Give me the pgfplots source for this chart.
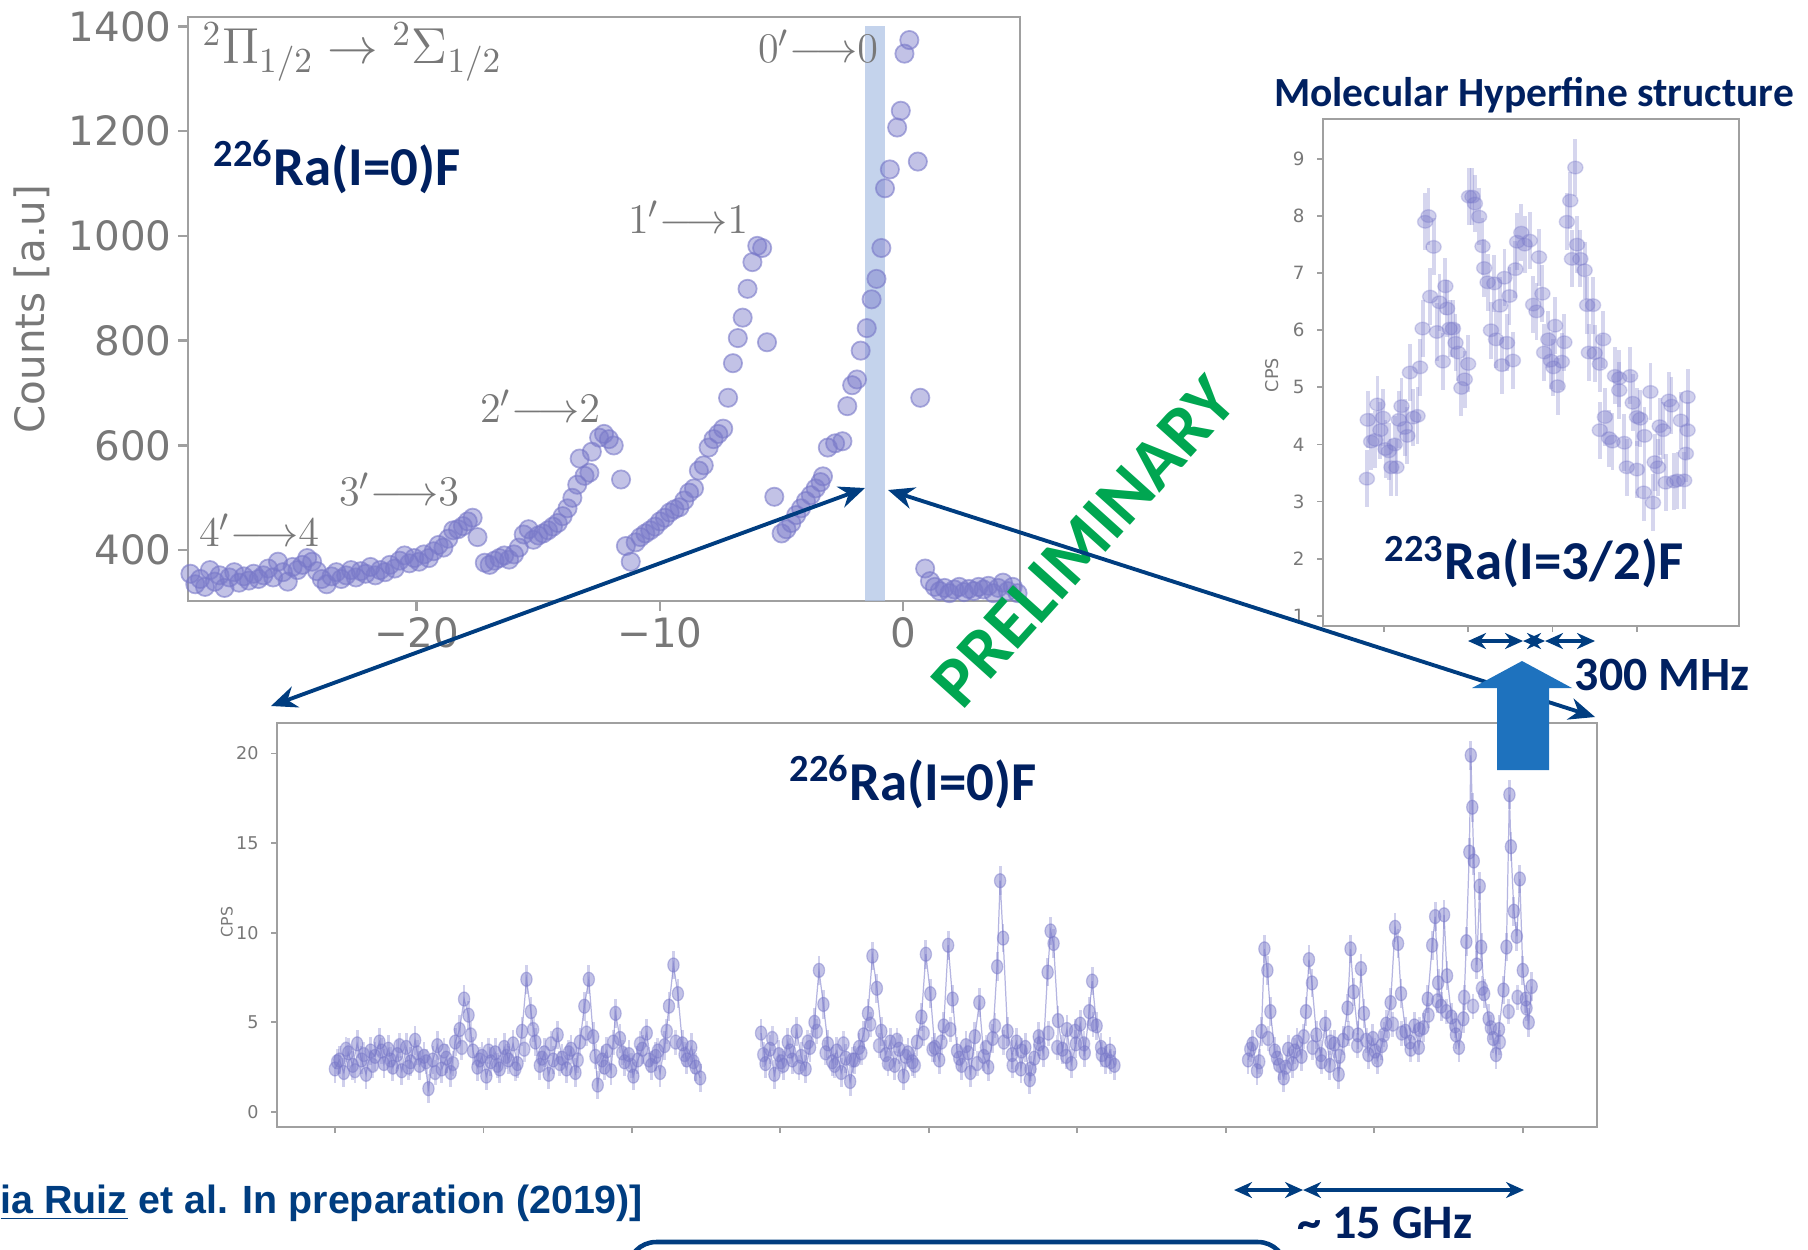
\documentclass[border=0pt]{standalone}
\usepackage{pgfplots}
\pgfplotsset{compat=1.18}
\usepackage{pgfplotstable}
\usepackage{fontspec}
\usetikzlibrary{arrows.meta}
\newfontfamily\dejavu{DejaVu Sans}
\newfontfamily\carlito{Carlito}
\newfontfamily\libsans{Liberation Sans}
\definecolor{navy}{RGB}{0,32,96}
\definecolor{arrowblue}{RGB}{0,61,128}
\definecolor{bigblue}{RGB}{30,114,190}
\definecolor{prelim}{RGB}{0,166,81}
\definecolor{pts}{RGB}{120,120,200}
\definecolor{tickgray}{RGB}{120,120,120}
\definecolor{framegray}{RGB}{160,160,160}
\definecolor{band}{RGB}{176,196,230}

\pgfplotstableread{
x y
-29.3 355
-29.1 335
-28.9 345
-28.7 330
-28.5 362
-28.3 340
-28.1 352
-27.9 328
-27.7 348
-27.5 358
-27.3 338
-27.1 350
-26.9 342
-26.7 355
-26.5 345
-26.3 352
-26.1 365
-25.9 348
-25.7 378
-25.5 358
-25.3 340
-25.1 368
-24.9 362
-24.7 372
-24.5 385
-24.3 378
-24.1 360
-23.9 345
-23.7 335
-23.5 350
-23.3 358
-23.1 345
-22.9 352
-22.7 362
-22.5 348
-22.3 360
-22.1 355
-21.9 368
-21.7 352
-21.5 362
-21.3 358
-21.1 372
-20.9 365
-20.7 380
-20.5 390
-20.3 375
-20.1 385
-19.9 378
-19.7 392
-19.5 385
-19.3 398
-19.1 410
-18.9 405
-18.7 422
-18.5 438
-18.3 440
-18.1 446
-17.9 455
-17.7 462
-17.5 425
-17.2 376
-17.0 372
-16.8 380
-16.6 385
-16.4 390
-16.2 382
-16.0 392
-15.8 405
-15.6 430
-15.4 440
-15.2 420
-15.0 428
-14.8 432
-14.6 438
-14.4 445
-14.2 452
-14.0 465
-13.8 480
-13.6 500
-13.4 525
-13.3 575
-13.1 542
-12.9 548
-12.8 588
-12.5 615
-12.3 622
-12.1 612
-11.9 600
-11.6 535
-11.4 408
-11.2 378
-11.0 415
-10.8 425
-10.6 432
-10.4 438
-10.2 445
-10.0 455
-9.8 462
-9.6 472
-9.4 478
-9.2 482
-9.0 495
-8.8 510
-8.6 518
-8.4 552
-8.2 562
-8.0 596
-7.8 612
-7.6 622
-7.4 632
-7.2 691
-7.0 757
-6.8 805
-6.6 844
-6.4 899
-6.2 950
-6.0 981
-5.8 977
-5.6 797
-5.3 502
-5.0 432
-4.8 440
-4.6 452
-4.4 467
-4.2 480
-4.0 494
-3.8 505
-3.6 518
-3.4 530
-3.3 541
-3.1 596
-2.8 604
-2.5 608
-2.3 675
-2.1 715
-1.9 726
-1.75 781
-1.5 824
-1.3 879
-1.1 918
-0.9 977
-0.75 1091
-0.55 1127
-0.25 1207
-0.1 1239
0.05 1348
0.25 1374
0.6 1142
0.7 691
0.9 365
1.1 341
1.3 330
1.5 322
1.7 328
1.9 318
2.1 325
2.3 330
2.5 320
2.7 326
2.9 322
3.1 330
3.3 325
3.5 332
3.7 318
3.9 328
4.1 338
4.3 322
4.5 330
4.7 318
}\tldata

\pgfplotstableread{
x y
-0.20 3.40
-0.19 4.43
-0.15 4.05
-0.10 4.08
-0.075 4.70
-0.04 4.25
-0.01 4.47
0.02 3.92
0.06 3.88
0.09 3.60
0.13 4.00
0.15 3.60
0.18 4.43
0.21 4.67
0.25 4.29
0.28 4.15
0.31 5.26
0.35 4.47
0.40 4.50
0.43 5.35
0.46 6.03
0.49 7.90
0.53 8.00
0.55 6.59
0.59 7.46
0.63 5.97
0.66 6.49
0.70 5.45
0.73 6.77
0.75 6.38
0.78 6.03
0.82 6.03
0.85 5.78
0.88 5.61
0.92 4.99
0.96 5.14
1.00 5.41
1.01 8.34
1.05 8.34
1.08 8.22
1.13 7.99
1.17 7.47
1.19 7.09
1.23 6.84
1.27 6.00
1.31 6.82
1.33 5.84
1.38 6.43
1.40 5.39
1.43 6.92
1.46 5.78
1.49 6.60
1.53 5.47
1.56 7.07
1.58 7.55
1.63 7.71
1.67 7.50
1.73 7.57
1.77 6.45
1.81 6.33
1.84 7.28
1.88 6.64
1.90 5.61
1.95 5.84
1.98 5.47
2.01 5.35
2.03 6.08
2.06 5.02
2.11 5.45
2.14 5.79
2.17 7.90
2.21 8.27
2.23 7.25
2.27 8.85
2.29 7.50
2.33 7.25
2.38 7.05
2.41 6.44
2.43 5.61
2.48 6.44
2.50 5.60
2.56 5.41
2.56 4.25
2.60 5.84
2.62 4.48
2.67 4.11
2.71 4.05
2.74 5.20
2.79 4.95
2.79 5.16
2.85 4.03
2.88 3.60
2.92 5.20
2.95 4.73
3.00 4.48
3.00 3.56
3.04 4.45
3.08 3.16
3.09 4.15
3.16 4.92
3.19 2.98
3.21 3.69
3.25 3.60
3.27 4.32
3.31 4.25
3.34 3.33
3.38 4.77
3.41 4.68
3.44 3.35
3.48 3.37
3.52 4.42
3.56 3.37
3.58 3.84
3.60 4.83
3.60 4.25
}\trdata

\pgfplotstableread{
x y
0.00 2.4
0.03 2.9
0.06 2.2
0.09 3.3
0.12 2.6
0.15 3.8
0.18 2.9
0.21 2.1
0.24 3.4
0.27 3.1
0.30 3.9
0.33 2.7
0.36 3.5
0.39 2.5
0.42 3.2
0.45 2.3
0.48 3.6
0.51 2.8
0.54 4.0
0.57 2.6
0.60 3.1
0.63 1.3
0.66 2.9
0.69 3.7
0.72 2.4
0.75 3.0
0.78 2.2
0.81 3.9
0.84 4.6
0.87 6.3
0.90 5.4
0.93 3.4
0.96 2.5
0.99 3.1
1.02 2.0
1.05 2.8
1.08 3.3
1.11 2.4
1.14 3.6
1.17 2.9
1.20 3.8
1.23 2.7
1.26 4.5
1.29 7.4
1.32 5.6
1.35 3.9
1.38 2.6
1.41 3.3
1.44 2.1
1.47 2.9
1.50 4.3
1.53 3.0
1.56 2.4
1.59 3.5
1.62 2.2
1.65 3.9
1.68 5.9
1.71 7.4
1.74 4.2
1.77 1.5
1.80 2.9
1.83 3.4
1.86 2.3
1.89 5.5
1.92 4.1
1.95 2.8
1.98 3.2
2.01 2.0
2.04 2.9
2.07 3.5
2.10 4.4
2.13 2.6
2.16 3.1
2.19 2.2
2.22 3.7
2.25 5.9
2.28 8.2
2.31 6.6
2.34 3.8
2.37 2.9
2.40 3.6
2.43 2.5
2.46 1.9
}\segA

\pgfplotstableread{
x y
0.015 2.8
0.075 3.5
0.135 2.3
0.195 3.2
0.255 2.6
0.315 3.4
0.375 2.9
0.435 3.7
0.495 2.5
0.555 3.3
0.615 2.8
0.675 2.2
0.735 3.4
0.795 2.7
0.855 3.6
0.915 4.3
0.975 2.9
1.035 3.4
1.095 2.6
1.155 3.1
1.215 2.4
1.275 3.5
1.335 4.6
1.395 3.0
1.455 3.8
1.515 2.7
1.575 3.3
1.635 2.9
1.695 4.4
1.755 3.1
1.815 2.5
1.875 3.9
1.935 3.3
1.995 2.6
2.055 3.8
2.115 2.9
2.175 3.4
2.235 4.5
2.295 3.9
2.355 3.2
2.415 2.8
}\segAb

\pgfplotstableread{
x y
2.87 4.4
2.90 2.7
2.93 3.5
2.96 2.1
2.99 3.2
3.02 2.6
3.05 3.9
3.08 2.9
3.11 4.5
3.14 3.1
3.17 2.4
3.20 3.6
3.23 5.0
3.26 7.9
3.29 6.0
3.32 3.8
3.35 2.8
3.38 3.4
3.41 2.2
3.44 3.0
3.47 1.7
3.50 2.9
3.53 3.6
3.56 4.3
3.59 5.5
3.62 8.7
3.65 6.9
3.68 4.5
3.71 3.2
3.74 3.9
3.77 2.6
3.80 3.5
3.83 2.0
3.86 3.3
3.89 2.8
3.92 3.9
3.95 5.3
3.98 8.8
4.01 6.6
4.04 3.6
4.07 2.9
4.10 4.8
4.13 9.3
4.16 6.3
4.19 3.4
4.22 2.6
4.25 3.7
4.28 2.2
4.31 4.2
4.34 6.1
4.37 3.1
4.40 2.5
4.43 4.1
4.46 8.1
4.48 12.9
4.50 9.7
4.53 4.5
4.56 3.2
4.59 3.9
4.62 2.4
4.65 3.6
4.68 1.8
4.71 3.0
4.74 4.2
4.77 3.3
4.80 7.8
4.82 10.1
4.84 9.4
4.87 5.1
4.90 3.5
4.93 4.6
4.96 2.7
4.99 3.8
5.02 4.9
5.05 3.3
5.08 5.6
5.10 7.3
5.13 4.8
5.16 3.6
5.19 2.9
5.22 3.4
5.25 2.6
}\segB

\pgfplotstableread{
x y
2.885 3.2
2.945 4.1
3.005 2.8
3.065 3.4
3.125 2.5
3.185 3.9
3.245 4.5
3.305 3.3
3.365 2.6
3.425 3.8
3.485 2.9
3.545 3.3
3.605 4.9
3.665 3.7
3.725 2.7
3.785 4.0
3.845 3.1
3.905 2.6
3.965 4.4
4.025 3.5
4.085 3.9
4.145 4.6
4.205 3.0
4.265 3.3
4.325 2.7
4.385 3.6
4.445 4.8
4.505 3.9
4.565 2.6
4.625 3.4
4.685 2.4
4.745 3.8
4.805 4.4
4.865 3.6
4.925 3.1
4.985 4.5
5.045 3.8
5.105 4.9
5.165 3.2
5.225 2.8
}\segBb

\pgfplotstableread{
x y
6.15 2.9
6.18 3.8
6.21 2.3
6.24 4.5
6.26 9.1
6.28 7.9
6.30 5.6
6.33 3.4
6.36 2.6
6.39 1.9
6.42 3.5
6.45 2.7
6.48 3.9
6.51 3.1
6.54 5.6
6.56 8.5
6.58 7.2
6.61 4.3
6.64 3.2
6.67 4.9
6.70 2.6
6.73 3.8
6.76 2.1
6.79 4.0
6.82 5.8
6.84 9.1
6.86 6.7
6.89 4.3
6.91 8.0
6.93 5.5
6.96 3.2
6.99 4.1
7.02 2.9
7.05 3.7
7.08 4.9
7.11 6.1
7.14 10.3
7.16 9.4
7.18 6.6
7.21 4.5
7.24 3.9
7.27 4.8
7.30 3.6
7.33 4.7
7.36 6.3
7.39 9.3
7.41 10.9
7.43 7.2
7.45 5.9
7.47 11.0
7.49 7.6
7.52 5.3
7.55 4.3
7.57 3.6
7.60 5.2
7.62 9.5
7.64 14.5
7.65 19.9
7.66 17.0
7.67 14.0
7.69 8.2
7.71 12.6
7.72 9.2
7.74 6.6
7.77 5.2
7.80 4.1
7.82 3.2
7.84 4.6
7.87 6.8
7.89 9.2
7.91 17.7
7.92 14.8
7.94 11.2
7.96 9.8
7.98 13.0
8.00 7.9
8.02 6.3
8.04 5.0
8.06 7.0
}\segC

\pgfplotstableread{
x y
6.165 3.5
6.225 2.8
6.285 4.1
6.345 3.0
6.405 2.5
6.465 3.4
6.525 4.2
6.585 3.6
6.645 2.8
6.705 3.9
6.765 3.1
6.825 4.4
6.885 3.7
6.945 4.0
7.005 3.4
7.065 4.3
7.125 4.9
7.185 4.4
7.245 3.5
7.305 4.6
7.365 5.4
7.425 6.2
7.485 5.6
7.545 4.8
7.605 6.4
7.665 5.9
7.725 6.9
7.785 4.7
7.845 3.9
7.905 5.6
7.965 6.4
8.025 5.8
}\segCb

\begin{document}
\begin{tikzpicture}
\useasboundingbox (0,0) rectangle (18.08,12.49);

% ---------------- top-left axis ----------------
\begin{axis}[at={(1.88cm,6.48cm)}, anchor=south west, scale only axis,
  width=8.32cm, height=5.84cm,
  xmin=-29.4, xmax=4.8, ymin=303, ymax=1418,
  axis line style={framegray, line width=0.75pt},
  xtick={-20,-10,0}, xticklabels={−20,−10,0},
  ytick={400,600,800,1000,1200,1400},
  yticklabels={400,600,800,1000,1200,1400},
  tick align=outside, major tick length=1mm,
  tick style={framegray, line width=0.7pt},
  xtick pos=bottom, ytick pos=left,
  ticklabel style={font=\dejavu\fontsize{11.5}{12}\selectfont, text=tickgray},
  yticklabel style={xshift=0.6mm},
  xticklabel style={yshift=0.6mm},
  /pgf/number format/assume math mode=true,
  ylabel={Counts [a.u]},
  ylabel style={font=\dejavu\fontsize{11.5}{12}\selectfont, text=tickgray,
    at={(axis description cs:-0.188,0.5)}, anchor=center},
]
\addplot[only marks, mark=*, mark size=2.6pt,
  mark options={fill=pts, fill opacity=0.45, draw=pts, draw opacity=0.6, line width=0.5pt}]
  table {\tldata};
\fill[band, opacity=0.75] (axis cs:-1.56,303) rectangle (axis cs:-0.76,1400);
\end{axis}

% ---------------- top-right axis ----------------
\begin{axis}[at={(13.23cm,6.23cm)}, anchor=south west, scale only axis,
  width=4.16cm, height=5.07cm,
  xmin=-0.72, xmax=4.21, ymin=0.82, ymax=9.7,
  axis line style={framegray, line width=0.7pt},
  xtick={0,1,2,3}, xticklabels={},
  ytick={1,2,3,4,5,6,7,8,9},
  tick align=outside, major tick length=0.6mm,
  tick style={framegray, line width=0.5pt},
  xtick pos=bottom, ytick pos=left,
  ticklabel style={font=\dejavu\fontsize{5.2}{6}\selectfont, text=tickgray},
  /pgf/number format/assume math mode=true,
  ylabel={CPS},
  ylabel style={font=\dejavu\fontsize{5}{6}\selectfont, text=tickgray,
    at={(axis description cs:-0.123,0.495)}, anchor=center},
]
\addplot[only marks, mark=*, mark size=1.8pt,
  mark options={fill=pts, fill opacity=0.35, draw=pts, draw opacity=0.3, xscale=1.2},
  error bars/.cd, y dir=both, y fixed=0.5,
  error bar style={pts, opacity=0.3, line width=1.1pt}, error mark=none]
  table {\trdata};
\end{axis}

% ---------------- bottom axis ----------------
\begin{axis}[at={(2.77cm,1.22cm)}, anchor=south west, scale only axis,
  width=13.20cm, height=4.04cm,
  xmin=-0.39, xmax=8.5, ymin=-0.84, ymax=21.7,
  axis line style={framegray, line width=0.7pt},
  xtick={0,1,2,3,4,5,6,7,8}, xticklabels={},
  ytick={0,5,10,15,20},
  tick align=outside, major tick length=0.6mm,
  tick style={framegray, line width=0.5pt},
  xtick pos=bottom, ytick pos=left,
  ticklabel style={font=\dejavu\fontsize{5}{6}\selectfont, text=tickgray},
  /pgf/number format/assume math mode=true,
  ylabel={CPS},
  ylabel style={font=\dejavu\fontsize{4.5}{5}\selectfont, text=tickgray,
    at={(axis description cs:-0.038,0.507)}, anchor=center},
]
\pgfplotsset{bottomstyle/.style={pts, opacity=0.55, line width=0.35pt, mark=*, mark size=1.6pt,
  mark options={fill=pts, fill opacity=0.45, draw opacity=0.45, yscale=1.25},
  error bars/.cd, y dir=both, y fixed=0.8,
  error bar style={pts, opacity=0.35, line width=0.8pt}, error mark=none},
  bottomextra/.style={only marks, mark=*, mark size=1.6pt,
  mark options={fill=pts, fill opacity=0.4, draw=pts, draw opacity=0.4, yscale=1.25},
  error bars/.cd, y dir=both, y fixed=0.7,
  error bar style={pts, opacity=0.3, line width=0.8pt}, error mark=none}}
\addplot[bottomextra] table {\segAb};
\addplot[bottomextra] table {\segBb};
\addplot[bottomextra] table {\segCb};
\addplot[bottomstyle] table {\segA};
\addplot[bottomstyle] table {\segB};
\addplot[bottomstyle] table {\segC};
\end{axis}

% ---------------- annotations (pixel coordinates of the reference) ----------------
\begin{scope}[x=0.1mm, y=-0.1mm, shift={(0,12.49cm)}]
\node[anchor=west, text=tickgray, font=\fontsize{14}{16}\selectfont, inner sep=0]
  at (202,52) {$^2\Pi_{1/2}\rightarrow{}^2\Sigma_{1/2}$};
\begin{scope}[every node/.style={text=tickgray, font=\fontsize{12.4}{14}\selectfont, inner sep=0}]
\node at (818,46) {$0'{\longrightarrow}0$};
\node at (688,217) {$1'{\longrightarrow}1$};
\node at (540,406) {$2'{\longrightarrow}2$};
\node at (399,489) {$3'{\longrightarrow}3$};
\node at (259,530) {$4'{\longrightarrow}4$};
\end{scope}

\begin{scope}[every node/.style={text=navy, font=\carlito\bfseries\fontsize{15.6}{18}\selectfont, inner sep=0, anchor=west}]
\node at (213,167) {\textsuperscript{226}Ra(I=0)F};
\node at (789,782) {\textsuperscript{226}Ra(I=0)F};
\node at (1384,562) {\textsuperscript{223}Ra(I=3/2)F};
\end{scope}
\node[text=navy, font=\carlito\bfseries\fontsize{11.8}{13}\selectfont, inner sep=0] at (1534,95) {Molecular Hyperfine structure};
\node[text=navy, font=\carlito\bfseries\fontsize{13.6}{16}\selectfont, inner sep=0] at (1662,675) {300 MHz};
\node[text=navy, font=\carlito\bfseries\fontsize{13.7}{16}\selectfont, inner sep=0] at (1385,1223) {\textasciitilde{} 15 GHz};
\node[anchor=west, text=arrowblue, font=\libsans\bfseries\fontsize{11.2}{13}\selectfont, inner sep=0] at (0,1203) {\underline{ia Ruiz} et al. In preparation (2019)]};

\node[rotate=48, text=prelim, font=\carlito\bfseries\fontsize{20.5}{24}\selectfont] at (1084,542) {PRELIMINARY};

% arrows
\begin{scope}[arrowblue, line width=1.1pt, >={Stealth[length=2.6mm,width=2.2mm]}]
\draw[<->] (865,488) -- (271,706);
\draw[<->] (888,490) -- (1595,717);
\end{scope}
\begin{scope}[arrowblue, line width=1pt, >={Stealth[length=1.8mm,width=1.6mm]}]
\draw[<->] (1468,641) -- (1523,641);
\draw[<->] (1523,641) -- (1545,641);
\draw[<->] (1545,641) -- (1595,641);
\draw[<->] (1234,1190) -- (1303,1190);
\draw[<->] (1303,1190) -- (1524,1190);
\end{scope}

% big up arrow
\fill[bigblue] (1497,770) -- (1497,688) -- (1472,688) -- (1522,661) -- (1572,688) -- (1549,688) -- (1549,770) -- cycle;

% rounded box at the bottom
\draw[arrowblue, line width=1.3pt, rounded corners=8] (628,1300) -- (628,1242) -- (1286,1242) -- (1286,1300);
\end{scope}
\end{tikzpicture}
\end{document}
